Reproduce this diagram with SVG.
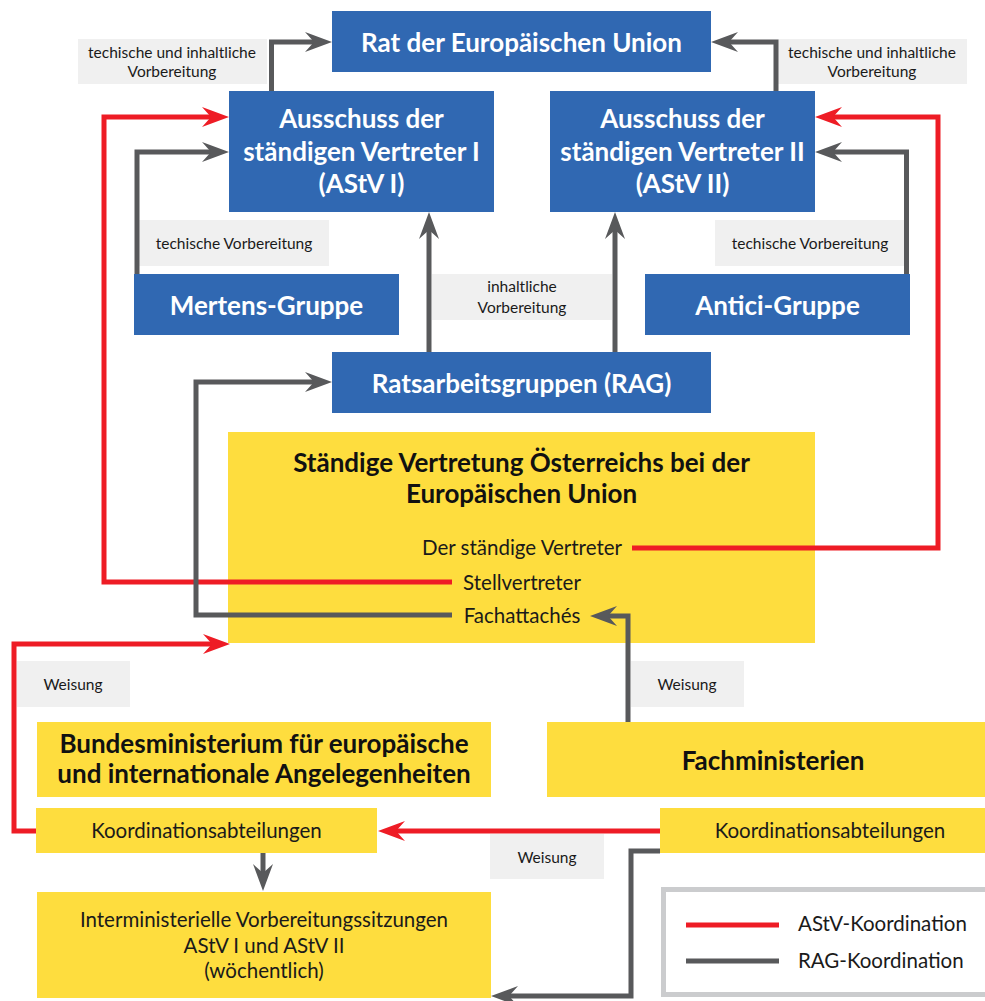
<svg xmlns="http://www.w3.org/2000/svg" width="985" height="1001" viewBox="0 0 985 1001">
<style>
.blue{fill:#3068B2}
.yel{fill:#FEDD3E}
.lab{fill:#F0F0F0}
.tw{font-family:Lato,"Open Sans",sans-serif;font-weight:bold;font-size:26px;fill:#fff;text-anchor:middle}
.tb{font-family:Lato,"Open Sans",sans-serif;font-weight:bold;font-size:26px;fill:#111;text-anchor:middle}
.tr{font-family:Lato,"Open Sans",sans-serif;font-size:20.5px;fill:#1a1a1a;text-anchor:middle}
.ts{font-family:Lato,"Open Sans",sans-serif;font-size:15.5px;fill:#1a1a1a;text-anchor:middle}
.tl{font-family:Lato,"Open Sans",sans-serif;font-size:20.5px;fill:#1a1a1a}
.g{fill:none;stroke:#58595B;stroke-width:5}
.r{fill:none;stroke:#EE1C25;stroke-width:5}
</style>
<defs>
<marker id="ag" markerUnits="userSpaceOnUse" markerWidth="28" markerHeight="22" viewBox="0 0 28 22" refX="9" refY="11" orient="auto"><path d="M27,11 L0,1 L9,11 L0,21 Z" fill="#58595B"/></marker>
<marker id="ar" markerUnits="userSpaceOnUse" markerWidth="28" markerHeight="22" viewBox="0 0 28 22" refX="9" refY="11" orient="auto"><path d="M27,11 L0,1 L9,11 L0,21 Z" fill="#EE1C25"/></marker>
</defs>
<rect width="985" height="1001" fill="#fff"/>
<g id="labels">
<rect class="lab" x="78" y="39" width="189" height="45"/>
<text class="ts" x="172" y="58">techische und inhaltliche</text>
<text class="ts" x="172" y="77">Vorbereitung</text>
<rect class="lab" x="778" y="39" width="189" height="45"/>
<text class="ts" x="872" y="58">techische und inhaltliche</text>
<text class="ts" x="872" y="77">Vorbereitung</text>
<rect class="lab" x="137" y="220" width="192" height="46"/>
<text class="ts" x="234" y="249">techische Vorbereitung</text>
<rect class="lab" x="715" y="220" width="192" height="46"/>
<text class="ts" x="810" y="249">techische Vorbereitung</text>
<rect class="lab" x="432" y="274" width="180" height="46"/>
<text class="ts" x="522" y="292">inhaltliche</text>
<text class="ts" x="522" y="313">Vorbereitung</text>
<rect class="lab" x="17" y="661" width="113" height="46"/>
<text class="ts" x="73" y="690">Weisung</text>
<rect class="lab" x="631" y="661" width="113" height="46"/>
<text class="ts" x="687" y="690">Weisung</text>
<rect class="lab" x="490" y="834" width="114" height="45"/>
<text class="ts" x="547" y="863">Weisung</text>
</g>
<g id="rat"><rect class="blue" x="332" y="11" width="379" height="61"/><text class="tw" x="521.5" y="52">Rat der Europäischen Union</text></g>
<g id="astv1"><rect class="blue" x="229" y="91" width="265" height="121"/><text class="tw" x="361.5" y="128">Ausschuss der</text><text class="tw" x="361.5" y="161">ständigen Vertreter I</text><text class="tw" x="361.5" y="193">(AStV I)</text></g>
<g id="astv2"><rect class="blue" x="550" y="91" width="265" height="121"/><text class="tw" x="682.5" y="128">Ausschuss der</text><text class="tw" x="682.5" y="161">ständigen Vertreter II</text><text class="tw" x="682.5" y="193">(AStV II)</text></g>
<g id="mertens"><rect class="blue" x="134" y="274" width="265" height="61"/><text class="tw" x="266.5" y="315">Mertens-Gruppe</text></g>
<g id="antici"><rect class="blue" x="645" y="274" width="265" height="61"/><text class="tw" x="777.5" y="315">Antici-Gruppe</text></g>
<g id="rag"><rect class="blue" x="332" y="352" width="379" height="61"/><text class="tw" x="521.5" y="393">Ratsarbeitsgruppen (RAG)</text></g>
<g id="stv"><rect class="yel" x="228" y="432" width="587" height="211"/>
<text class="tb" x="521.5" y="472">Ständige Vertretung Österreichs bei der</text>
<text class="tb" x="521.5" y="503">Europäischen Union</text>
<text class="tr" x="522" y="555">Der ständige Vertreter</text>
<text class="tr" x="522" y="590">Stellvertreter</text>
<text class="tr" x="522" y="623">Fachattachés</text></g>
<g id="bmeia"><rect class="yel" x="37" y="722" width="454" height="75"/><text class="tb" x="264" y="753">Bundesministerium für europäische</text><text class="tb" x="264" y="783">und internationale Angelegenheiten</text></g>
<g id="fachmin"><rect class="yel" x="547" y="722" width="453" height="75"/><text class="tb" x="773" y="770">Fachministerien</text></g>
<g id="koord1"><rect class="yel" x="36" y="808" width="341" height="45"/><text class="tr" x="206.5" y="838">Koordinationsabteilungen</text></g>
<g id="koord2"><rect class="yel" x="660" y="808" width="340" height="45"/><text class="tr" x="830" y="838">Koordinationsabteilungen</text></g>
<g id="inter"><rect class="yel" x="37" y="892" width="454" height="106"/><text class="tr" x="264" y="927">Interministerielle Vorbereitungssitzungen</text><text class="tr" x="264" y="953">AStV I und AStV II</text><text class="tr" x="264" y="978">(wöchentlich)</text></g>
<g id="connectors">
<path class="g" d="M271.5,91 V42 H314" marker-end="url(#ag)"/>
<path class="g" d="M776,91 V42 H729" marker-end="url(#ag)"/>
<path class="r" d="M452,582 H104 V117 H211" marker-end="url(#ar)"/>
<path class="g" d="M137,274 V152 H211" marker-end="url(#ag)"/>
<path class="g" d="M906.5,274 V152 H833" marker-end="url(#ag)"/>
<path class="r" d="M632,548 H938 V117 H833" marker-end="url(#ar)"/>
<path class="g" d="M429,352 V230" marker-end="url(#ag)"/>
<path class="g" d="M615,352 V230" marker-end="url(#ag)"/>
<path class="g" d="M452,615 H196 V382 H314" marker-end="url(#ag)"/>
<path class="g" d="M628,722 V616 H608" marker-end="url(#ag)"/>
<path class="r" d="M36,831 H14 V644 H212" marker-end="url(#ar)"/>
<path class="r" d="M660,831 H396" marker-end="url(#ar)"/>
<path class="g" d="M263,853 V873" marker-end="url(#ag)"/>
<path class="g" d="M660,851 H631 V996 H509" marker-end="url(#ag)"/>
</g>
<g id="legend">
<rect x="663.5" y="889.5" width="330" height="105" fill="#fff" stroke="#CBCCCE" stroke-width="5"/>
<line x1="686" y1="925" x2="779" y2="925" stroke="#EE1C25" stroke-width="5"/>
<line x1="686" y1="961" x2="779" y2="961" stroke="#58595B" stroke-width="5"/>
<text class="tl" x="798" y="931">AStV-Koordination</text>
<text class="tl" x="798" y="968">RAG-Koordination</text>
</g>
</svg>
